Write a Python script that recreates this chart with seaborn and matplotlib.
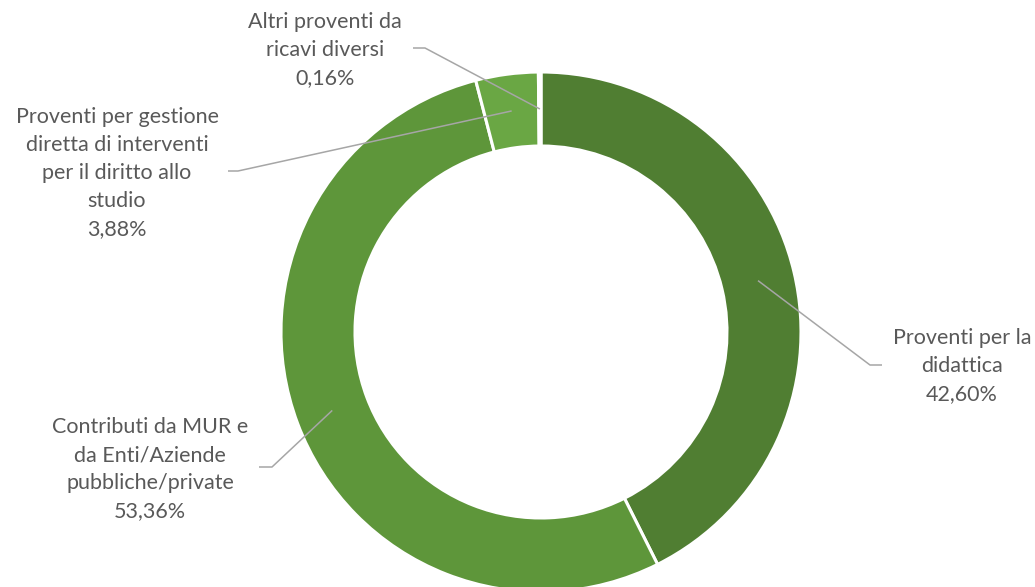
import numpy as np
import matplotlib
matplotlib.use("Agg")
import matplotlib.pyplot as plt
import seaborn as sns

categories = [
    "Proventi per la\ndidattica",
    "Contributi da MUR e\nda Enti/Aziende\npubbliche/private",
    "Proventi per gestione\ndiretta di interventi\nper il diritto allo\nstudio",
    "Altri proventi da\nricavi diversi",
]
values = [42.60, 53.36, 3.88, 0.16]
value_labels = ["42,60%", "53,36%", "3,88%", "0,16%"]
colors = ["#507E32", "#5E963A", "#6AA744", "#70AD47"]

sns.set_theme(style="white")
plt.rcParams["font.family"] = ["Lato", "DejaVu Sans"]

W, H = 1035, 587
fig = plt.figure(figsize=(W / 100, H / 100), dpi=100)
ax = fig.add_axes([0, 0, 1, 1])

cx, cy = 541, H - 332
R = 260
ring = 74

wedges, _ = ax.pie(values, colors=colors, startangle=90, counterclock=False,
                   radius=R, center=(cx, cy), frame=True,
                   wedgeprops=dict(width=ring, edgecolor="white", linewidth=2.2))
ax.set_xlim(0, W)
ax.set_ylim(0, H)
ax.set_aspect("equal")
ax.axis("off")

# label layout (pixel coords, y from top): text block centre, elbow start, elbow end
layout = [
    dict(tx=962, ty=366, p1=(882, 365), p2=(870, 365)),
    dict(tx=150, ty=469, p1=(259, 467), p2=(272, 467)),
    dict(tx=117, ty=173, p1=(228, 171), p2=(238, 171)),
    dict(tx=325, ty=50, p1=(413, 48), p2=(425, 48)),
]
text_color = "#595959"
line_color = "#A6A6A6"
ra = R - ring / 2
for w, cat, vl, lay in zip(wedges, categories, value_labels, layout):
    mid = np.deg2rad((w.theta1 + w.theta2) / 2)
    ax_x = cx + ra * np.cos(mid)
    ax_y = cy + ra * np.sin(mid)
    xs = [lay["p1"][0], lay["p2"][0], ax_x]
    ys = [H - lay["p1"][1], H - lay["p2"][1], ax_y]
    ax.plot(xs, ys, color=line_color, lw=1.1, solid_capstyle="butt")
    txt = cat + "\n" + vl
    ax.text(lay["tx"], H - lay["ty"], txt, ha="center", va="center",
            fontsize=15.5, color=text_color, linespacing=1.5)

fig.savefig("out.png", dpi=100, facecolor="white")
